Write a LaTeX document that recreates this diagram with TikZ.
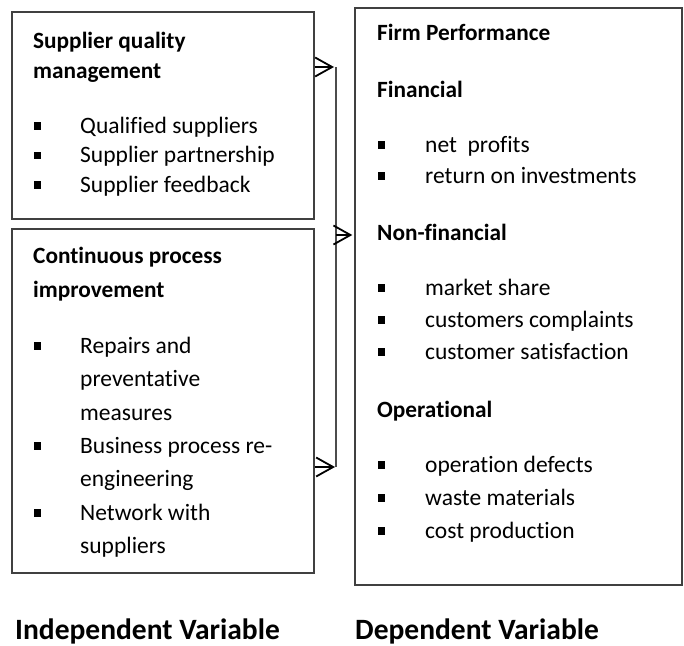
\documentclass[tikz,border=0pt]{standalone}
\usepackage{fontspec}
\setmainfont{Carlito}[Ligatures=NoCommon]
\usetikzlibrary{arrows.meta}
\tikzset{
  box/.style={draw=black!75, line width=1.4pt, inner sep=0pt},
  itemtxt/.style={anchor=base west, inner sep=0pt, font=\fontsize{23.5}{28}\selectfont},
  titletxt/.style={anchor=base west, inner sep=0pt, font=\fontsize{23.3}{28}\selectfont\bfseries},
  bigtxt/.style={anchor=base west, inner sep=0pt, font=\fontsize{29.5}{34}\selectfont\bfseries},
  sq/.style={fill=black, minimum size=7.5pt, inner sep=0pt},
  conn/.style={draw=black!70, line width=1.5pt},
  arr/.style={draw=black, line width=1.8pt, -{Straight Barb[length=17pt,width=19pt,line width=1.8pt]}}
}
\newcommand\bitem[5]{% name, bullet x, text x, baseline y, text
  \node[itemtxt] (#1) at (#3,#4) {#5};
  \node[sq] (#1s) at (#2,#4-7) {};
}
\begin{document}
\begin{tikzpicture}[x=1pt,y=-1pt]
\useasboundingbox (0,0) rectangle (684,645);
% boxes
\node[box, minimum width=302pt, minimum height=207pt] (b1) at (163,115.5) {};
\node[box, minimum width=302pt, minimum height=344pt] (b2) at (163,401) {};
\node[box, minimum width=327pt, minimum height=577pt] (b3) at (518.5,296.5) {};
% box 1
\node[titletxt] (t1a) at (33,48) {Supplier quality};
\node[titletxt] (t1b) at (33,78) {management};
\bitem{i11}{37.5}{80}{133}{Qualified suppliers}
\bitem{i12}{37.5}{80}{162.5}{Supplier partnership}
\bitem{i13}{37.5}{80}{192}{Supplier feedback}
% box 2
\node[titletxt] (t2a) at (33,263) {Continuous process};
\node[titletxt] (t2b) at (33,297) {improvement};
\bitem{i21}{37.5}{80}{353}{Repairs and}
\node[itemtxt] (i21b) at (80,386.5) {preventative};
\node[itemtxt] (i21c) at (80,420) {measures};
\bitem{i22}{37.5}{80}{453}{Business process re-}
\node[itemtxt] (i22b) at (80,486.5) {engineering};
\bitem{i23}{37.5}{80}{520}{Network with}
\node[itemtxt] (i23b) at (80,553) {suppliers};
% box 3
\node[titletxt] (t3a) at (377,40) {Firm Performance};
\node[titletxt] (t3b) at (377,97) {Financial};
\bitem{i31}{381.5}{425}{152}{net\ \ profits}
\bitem{i32}{381.5}{425}{183}{return on investments}
\node[titletxt] (t3c) at (377,240) {Non-financial};
\bitem{i33}{381.5}{425}{295}{market share}
\bitem{i34}{381.5}{425}{327}{customers complaints}
\bitem{i35}{381.5}{425}{359}{customer satisfaction}
\node[titletxt] (t3d) at (377,417) {Operational};
\bitem{i36}{381.5}{425}{472}{operation defects}
\bitem{i37}{381.5}{425}{505}{waste materials}
\bitem{i38}{381.5}{425}{538}{cost production}
% labels
\node[bigtxt] (lab1) at (15,639) {Independent Variable};
\node[bigtxt] (lab2) at (355,639) {Dependent Variable};
% connectors
\coordinate (vtop) at (336,67);
\coordinate (vbot) at (336,467);
\coordinate (vmid) at (336,235);
\draw[conn] (vtop) -- (vbot);
\draw[arr] (b1.east |- vtop) -- ([xshift=-2pt]vtop);
\draw[arr] (b2.east |- vbot) -- ([xshift=-1pt]vbot);
\draw[arr] (vmid) -- ([xshift=-2pt]vmid -| b3.west);
\end{tikzpicture}
\end{document}
